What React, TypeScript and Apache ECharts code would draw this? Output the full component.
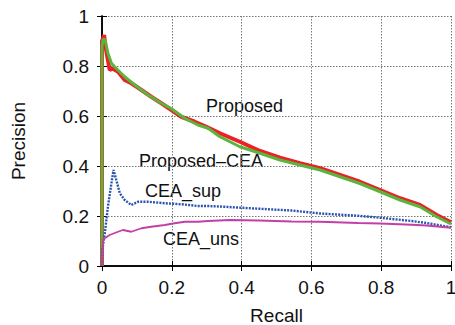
import React, { useEffect, useRef } from "react";
import * as echarts from "echarts";

const xTicks = [0, 0.2, 0.4, 0.6, 0.8, 1];
const yTicks = [0, 0.2, 0.4, 0.6, 0.8, 1];

const proposed: [number, number][] = [
  [0, 0], [0, 0.9], [0.003, 0.91], [0.006, 0.924], [0.01, 0.877], [0.016, 0.83], [0.022, 0.784],
  [0.03, 0.79], [0.046, 0.777], [0.065, 0.744], [0.084, 0.731], [0.113, 0.704], [0.141, 0.677],
  [0.17, 0.651], [0.199, 0.624], [0.227, 0.597], [0.266, 0.577], [0.299, 0.557], [0.338, 0.531],
  [0.395, 0.497], [0.453, 0.46], [0.51, 0.433], [0.567, 0.411], [0.625, 0.391], [0.682, 0.364],
  [0.739, 0.337], [0.797, 0.304], [0.854, 0.271], [0.911, 0.244], [0.959, 0.204], [1, 0.175],
];

const proposedCEA: [number, number][] = [
  [0, 0], [0, 0.88], [0.003, 0.904], [0.006, 0.91], [0.01, 0.897], [0.017, 0.851], [0.027, 0.811],
  [0.036, 0.797], [0.065, 0.757], [0.094, 0.724], [0.132, 0.684], [0.17, 0.651], [0.2, 0.628],
  [0.237, 0.591], [0.275, 0.564], [0.304, 0.551], [0.338, 0.517], [0.395, 0.477], [0.453, 0.451],
  [0.51, 0.424], [0.567, 0.404], [0.625, 0.384], [0.682, 0.357], [0.739, 0.33], [0.797, 0.297],
  [0.854, 0.264], [0.911, 0.237], [0.959, 0.197], [1, 0.168],
];

const ceaSup: [number, number][] = [
  [0, 0], [0.001, 0.064], [0.008, 0.131], [0.017, 0.237], [0.027, 0.331], [0.033, 0.384],
  [0.041, 0.344], [0.051, 0.291], [0.065, 0.264], [0.084, 0.244], [0.103, 0.257], [0.132, 0.257],
  [0.18, 0.251], [0.227, 0.247], [0.275, 0.24], [0.304, 0.24], [0.35, 0.237], [0.45, 0.229],
  [0.543, 0.222], [0.625, 0.21], [0.734, 0.201], [0.797, 0.193], [0.887, 0.18], [0.93, 0.172],
  [1, 0.155],
];

const ceaUns: [number, number][] = [
  [0, 0], [0.002, 0.07], [0.003, 0.104], [0.008, 0.111], [0.022, 0.124], [0.046, 0.137],
  [0.06, 0.144], [0.084, 0.137], [0.113, 0.151], [0.141, 0.157], [0.18, 0.164], [0.208, 0.171],
  [0.237, 0.177], [0.275, 0.177], [0.304, 0.18], [0.367, 0.184], [0.45, 0.182], [0.543, 0.178],
  [0.625, 0.177], [0.734, 0.172], [0.797, 0.17], [0.887, 0.165], [0.93, 0.162], [1, 0.153],
];

const seriesNames = ["Proposed", "Proposed–CEA", "CEA_sup", "CEA_uns"];

const FONT = "'Liberation Sans', Arial, Helvetica, sans-serif";

export default function App() {
  const ref = useRef<HTMLDivElement>(null);
  useEffect(() => {
    document.body.style.margin = "0";
    const chart = echarts.init(ref.current!, null, { renderer: "svg" });
    const grid = { left: 102, right: 4, top: 16, bottom: 59, outerBoundsMode: "none", containLabel: false };
    const fmt = (v: number) => (v === 0 ? "0" : v === 1 ? "1" : String(v));
    const baseAxis = {
      type: "value" as const,
      min: 0,
      max: 1,
      interval: 0.2,
      axisLine: { show: true, lineStyle: { color: "#000", width: 1.5 } },
      axisTick: { show: true, inside: true, length: 5, lineStyle: { color: "#000", width: 1 } },
    };
    chart.setOption({
      animation: false,
      backgroundColor: "#fff",
      grid,
      textStyle: { fontFamily: FONT },
      xAxis: [
        {
          ...baseAxis,
          position: "bottom",
          name: "Recall",
          nameLocation: "middle",
          nameGap: 40,
          nameTextStyle: { fontFamily: FONT, fontSize: 19, color: "#111" },
          axisLabel: {
            fontFamily: FONT, fontSize: 19, color: "#111", margin: 12,
            formatter: (v: number) => (xTicks.includes(v) ? fmt(v) : ""),
          },
          splitLine: { show: true, lineStyle: { color: "#777", type: [1.5, 1.5], width: 1 } },
        },
        {
          ...baseAxis,
          position: "top",
          axisLabel: { show: false },
          splitLine: { show: false },
        },
      ],
      yAxis: [
        {
          ...baseAxis,
          position: "left",
          name: "Precision",
          nameLocation: "middle",
          nameGap: 74,
          nameTextStyle: { fontFamily: FONT, fontSize: 19, color: "#111" },
          axisLabel: {
            fontFamily: FONT, fontSize: 19, color: "#111", margin: 13,
            formatter: (v: number) => (yTicks.includes(v) ? fmt(v) : ""),
          },
          splitLine: { show: true, lineStyle: { color: "#777", type: [1.5, 1.5], width: 1 } },
        },
        {
          ...baseAxis,
          position: "right",
          axisLabel: { show: false },
          splitLine: { show: false },
        },
      ],
      series: [
        {
          name: seriesNames[0], type: "line", data: proposed, showSymbol: false,
          lineStyle: { color: "#ea2127", width: 4 }, z: 2,
        },
        {
          name: seriesNames[1], type: "line", data: proposedCEA, showSymbol: false,
          lineStyle: { color: "#5bb43c", width: 3 }, z: 3,
        },
        {
          name: seriesNames[2], type: "line", data: ceaSup, showSymbol: false,
          lineStyle: { color: "#2a54b0", width: 2.4, type: [2, 1.2] }, z: 4,
        },
        {
          name: seriesNames[3], type: "line", data: ceaUns, showSymbol: false,
          lineStyle: { color: "#c23fa6", width: 1.8 }, z: 5,
        },
      ],
      graphic: [
        { type: "text", left: 206, top: 97, style: { text: seriesNames[0], font: `18px ${FONT}`, fill: "#111" } },
        { type: "text", left: 139, top: 152, style: { text: seriesNames[1], font: `18px ${FONT}`, fill: "#111" } },
        { type: "text", left: 145, top: 182, style: { text: seriesNames[2], font: `18px ${FONT}`, fill: "#111" } },
        { type: "text", left: 163, top: 230, style: { text: seriesNames[3], font: `18px ${FONT}`, fill: "#111" } },
      ],
    });
    return () => chart.dispose();
  }, []);
  return <div ref={ref} style={{ width: 455, height: 325 }} />;
}
